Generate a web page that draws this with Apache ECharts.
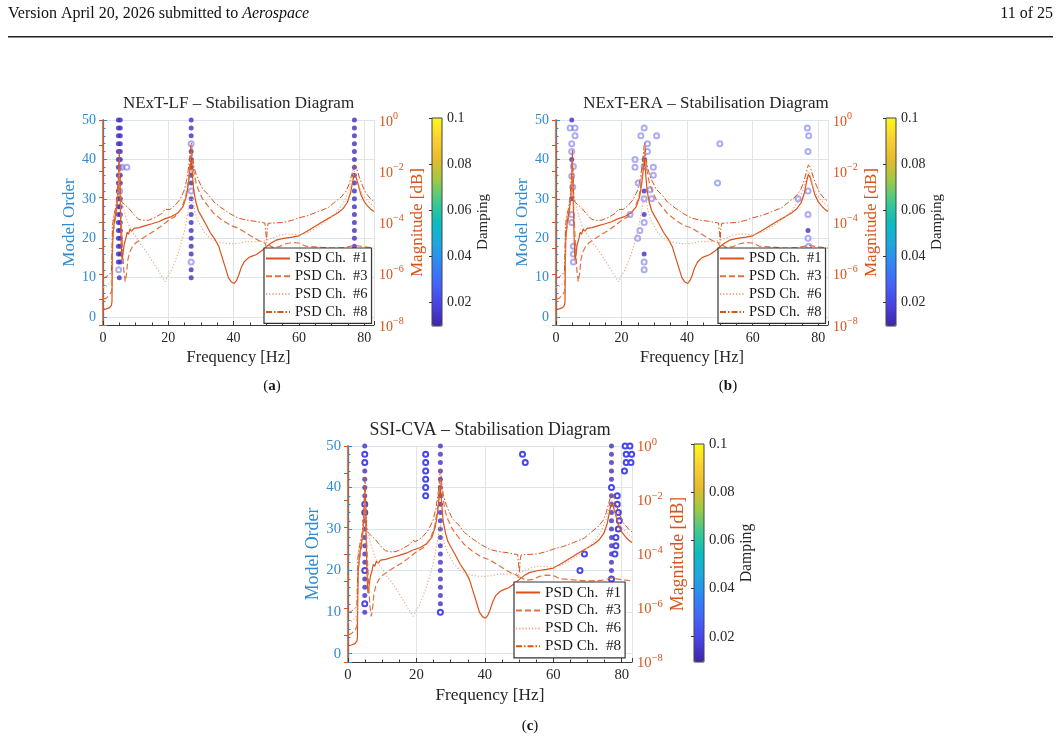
<!DOCTYPE html>
<html><head><meta charset="utf-8">
<script src="https://cdn.jsdelivr.net/npm/echarts@6/dist/echarts.min.js"></script>
<style>html,body{margin:0;padding:0;background:#fff}#c{width:1061px;height:742px}</style>
</head><body><div id="c"></div>
<script>
// ---------------- DATA ----------------
const freqMax = 83;
const orderMin = -2, orderMax = 50;
const magMin = 1e-8, magMax = 1;
const dampMin = 0.0095, dampMax = 0.1;

const panelTitles = ['NExT-LF – Stabilisation Diagram', 'NExT-ERA – Stabilisation Diagram', 'SSI-CVA – Stabilisation Diagram'];
const captions = ['a', 'b', 'c'];
const psdNames = ['PSD Ch.  #1', 'PSD Ch.  #3', 'PSD Ch.  #6', 'PSD Ch.  #8'];

// PSD curves: [frequency Hz, log10(magnitude)]
const psdCh1 = [[0,-7.38],[1,-7.37],[2,-7.32],[2.6,-7.23],[2.75,-7.08],[2.85,-5.54],[3.0,-4.62],[3.3,-4.15],[3.6,-3.85],[4.0,-3.54],[4.4,-3.15],[4.7,-2.62],[4.9,-2.15],[5.0,-1.85],[5.15,-2.31],[5.3,-3.38],[5.5,-4.46],[5.7,-5.23],[5.85,-5.46],[6.1,-5.23],[6.5,-4.85],[7.0,-4.62],[7.4,-4.38],[7.8,-4.46],[8.3,-4.26],[8.8,-4.34],[9.5,-4.23],[11,-4.20],[13,-4.12],[15,-4.05],[17,-3.97],[19,-3.85],[21,-3.77],[23,-3.62],[24.5,-3.38],[25.5,-3.0],[26.2,-2.46],[26.7,-1.85],[27.0,-1.57],[27.3,-2.0],[27.8,-2.77],[28.5,-3.23],[29.2,-3.54],[30.2,-3.77],[31.3,-4.02],[32.8,-4.38],[34.4,-4.68],[35.5,-4.95],[36.4,-5.32],[37.5,-5.77],[38.4,-6.15],[39.3,-6.32],[40.2,-6.38],[40.9,-6.26],[41.5,-6.08],[42.3,-5.77],[43.2,-5.54],[44.5,-5.38],[45.5,-5.32],[47,-5.25],[48.5,-5.11],[50.1,-4.94],[51.5,-4.80],[53,-4.69],[55.3,-4.62],[58,-4.57],[60,-4.52],[62.5,-4.34],[65,-4.15],[67.5,-3.95],[70,-3.77],[72,-3.62],[73.5,-3.46],[74.8,-3.23],[75.8,-2.85],[76.5,-2.38],[77,-2.12],[77.5,-2.23],[78.2,-2.54],[79,-2.92],[80,-3.18],[81,-3.35],[82,-3.48],[83,-3.57]];
const psdCh3 = [[0,-7.0],[1,-6.95],[2,-6.83],[2.6,-6.69],[2.75,-6.15],[2.9,-4.77],[3.2,-4.31],[3.6,-4.0],[4.0,-3.69],[4.4,-3.23],[4.7,-2.46],[4.95,-1.54],[5.1,-2.15],[5.3,-3.08],[5.6,-4.0],[6.0,-5.08],[6.4,-5.92],[6.8,-6.31],[7.2,-6.0],[7.6,-5.46],[8.2,-5.15],[9,-4.95],[10,-4.80],[12,-4.62],[14,-4.46],[16,-4.31],[18,-4.12],[20,-3.92],[22,-3.77],[24,-3.46],[25.3,-3.0],[26.2,-2.31],[26.8,-1.46],[27.0,-1.23],[27.3,-1.54],[27.8,-2.0],[28.5,-2.46],[29.2,-2.72],[30.5,-3.08],[32.3,-3.38],[34,-3.65],[36.3,-3.89],[39,-4.11],[41.4,-4.22],[44,-4.42],[46.5,-4.62],[48,-4.72],[49.6,-4.80],[50,-4.95],[50.4,-4.86],[52,-4.97],[54,-4.94],[56,-4.83],[58,-4.78],[60,-4.80],[62,-4.92],[65,-4.95],[70,-5.0],[74,-4.98],[77,-4.89],[80,-4.95],[83,-5.0]];
const psdCh6 = [[0,-6.54],[1,-6.49],[2,-6.38],[2.6,-6.28],[2.75,-5.38],[2.9,-4.0],[3.3,-3.69],[3.8,-3.46],[4.3,-3.15],[4.7,-2.62],[4.95,-2.0],[5.15,-2.46],[5.4,-2.92],[5.8,-3.15],[6.3,-3.46],[7,-3.77],[8,-4.15],[9,-4.38],[10,-4.54],[11.5,-4.85],[13,-5.08],[14.5,-5.38],[16,-5.69],[17.5,-6.0],[19,-6.31],[20,-6.08],[21,-5.85],[22,-5.54],[23,-5.20],[24,-4.77],[25,-4.31],[25.8,-3.77],[26.3,-3.38],[26.8,-3.0],[27.1,-2.92],[27.5,-3.15],[28.2,-3.62],[29,-3.92],[29.8,-4.09],[31,-4.38],[32.8,-4.62],[34.5,-4.72],[36,-4.78],[38,-4.82],[40,-4.83],[42,-4.80],[44,-4.74],[46,-4.75],[48,-4.74],[49.7,-4.71],[50,-4.85],[50.3,-4.68],[52,-4.60],[54,-4.49],[56,-4.45],[58,-4.46],[60,-4.49],[63,-4.38],[66,-4.15],[69,-3.88],[72,-3.54],[74,-3.15],[75.5,-2.69],[76.5,-2.23],[77,-2.0],[77.6,-2.15],[78.5,-2.62],[79.5,-2.92],[81,-3.15],[83,-3.38]];
const psdCh8 = [[0,-6.18],[1,-6.12],[2,-6.02],[2.6,-5.91],[2.75,-5.08],[2.9,-4.15],[3.3,-3.77],[3.8,-3.46],[4.3,-3.08],[4.6,-2.46],[4.85,-1.69],[5.0,-1.15],[5.15,-1.85],[5.35,-2.77],[5.6,-3.15],[6,-3.23],[7,-3.34],[8,-3.46],[9,-3.62],[10,-3.77],[11,-3.88],[12.5,-3.92],[14,-3.91],[16,-3.80],[18,-3.65],[19,-3.49],[19.6,-3.54],[20.5,-3.49],[22,-3.34],[23.5,-3.11],[24.8,-2.77],[25.7,-2.31],[26.4,-1.69],[26.9,-0.99],[27.1,-0.88],[27.4,-1.38],[27.9,-1.85],[28.5,-2.11],[29.2,-2.34],[30.5,-2.69],[32.3,-2.92],[34,-3.2],[36.3,-3.43],[39,-3.66],[41.4,-3.83],[44,-3.91],[46.5,-3.95],[48.5,-4.0],[49.6,-4.02],[49.9,-4.46],[50.1,-4.69],[50.3,-4.23],[50.6,-4.03],[52,-4.02],[55.3,-4.0],[58,-3.91],[60,-3.82],[63,-3.72],[66,-3.57],[69,-3.42],[71,-3.2],[73,-3.0],[74.5,-2.77],[75.5,-2.46],[76.3,-2.08],[77,-1.75],[77.6,-1.85],[78.5,-2.23],[79.5,-2.57],[80.5,-2.85],[82,-3.08],[83,-3.18]];

// Stable poles: columns {f: Hz, d: damping, o: model orders}
const lfStable = [
  {f:5.0, d:0.013, o:[10]},
  {f:4.7, d:0.013, o:[14,16,18,20,22,24,26,28,30,32,34,36,38,40,42,44,46,48,50]},
  {f:5.3, d:0.013, o:[14,16,18,20,22,24,26,28,30,34,36,38,40,42,44,46,48,50]},
  {f:27.0, d:0.013, o:[10,12,16,18,20,22,24,26,28,30,34,36,38,40,42,46,48,50]},
  {f:77.0, d:0.013, o:[10,12,14,16,18,20,22,24,26,28,30,32,34,36,38,40,42,44,46,48,50]}
];
const eraStable = [
  {f:4.8, d:0.013, o:[30,40,50]},
  {f:26.9, d:0.013, o:[16,26,32,40]},
  {f:76.9, d:0.013, o:[22]}
];
const cvaStable = [
  {f:4.9, d:0.013, o:[10,14,16,18,22,24,26,28,30,32,38,40,42,44,50]},
  {f:27.0, d:0.013, o:[12,14,16,18,20,22,24,26,28,30,32,34,36,38,40,42,44,46,48,50]},
  {f:77.0, d:0.013, o:[10,12,14,16,20,22,24,26,28,30,32,34,36,38,42,44,46,48,50]}
];
// Unstable poles: [Hz, model order, damping]
const lfUnstable = [[4.8,12,0.02],[5.1,32,0.02],[5.8,38,0.02],[7.3,38,0.02],[27.0,14,0.02],[27.0,32,0.02],[27.0,44,0.02]];
const eraUnstable = [[4.3,48,0.02],[5.8,48,0.02],[5.8,46,0.02],[4.8,44,0.02],[4.8,42,0.02],[5.3,38.2,0.02],[4.8,35.8,0.02],[5.1,33,0.02],[4.8,26,0.02],[4.8,24,0.02],[5.3,18,0.02],[5.3,16,0.02],[5.3,14,0.02],
  [26.9,48,0.02],[25.9,46,0.02],[30.7,46,0.02],[27.9,44,0.02],[27.9,42,0.02],[24.1,40,0.02],[24.1,38,0.02],[29.7,38,0.02],[26.9,38.2,0.02],[29.7,36,0.02],[25.1,34,0.02],[28.7,32.3,0.02],[26.9,30,0.02],[29.2,30,0.02],[22.6,26,0.02],[26.9,24,0.02],[25.6,22,0.02],[24.9,20,0.02],[26.9,14,0.02],[26.9,12,0.02],
  [50.0,44,0.02],[49.3,34,0.02],[73.9,30,0.02],
  [76.7,48,0.02],[77.1,46,0.02],[76.9,42,0.02],[76.9,32,0.02],[76.9,26,0.02],[76.9,20,0.02],[77.1,18,0.02]];
const cvaUnstable = [[4.9,48,0.02],[4.9,46,0.02],[4.9,36,0.02],[4.9,34,0.02],[4.9,20,0.02],[4.9,12,0.02],
  [22.7,48,0.02],[22.7,46,0.02],[22.7,44,0.02],[22.7,42,0.02],[22.7,40,0.02],[22.7,38,0.02],[27.0,10,0.02],
  [51.0,48,0.02],[51.8,46,0.02],[69.1,24,0.02],[67.8,20,0.02],[77.0,40,0.02],[77.0,18,0.02],
  [81.0,50,0.02],[82.4,50,0.02],[81.3,48,0.02],[82.9,48,0.02],[81.3,46,0.02],[82.7,46,0.02],[80.8,44,0.02],
  [78.7,38,0.02],[78.7,36,0.02],[79.0,34,0.02],[79.3,32,0.02],[79.0,30,0.02],[78.3,28,0.02],[78.3,26,0.02],[78.0,24,0.02]];

const parula = ['#3E26A8','#4741E5','#4563FD','#2E87F7','#1CA9DF','#0BBDBD','#3FCA8E','#9DC943','#E6BB2D','#FCCF30','#F9FB15'];

// ---------------- LAYOUT / STYLE ----------------
const FONT = '"Liberation Serif","DejaVu Serif",serif';
const BLUE = '#2F8AD0', ORANGE = '#D95319', INK = '#262626';
const panels = [
  {grid:{left:103, top:120, width:271, height:205}, cbar:{left:432, top:118, width:10, height:208}, legend:{left:264, top:248}, tx:238.5, ty:104, cx:272, cy:386, stable:lfStable, unstable:lfUnstable, uOp:0.45, fs:1},
  {grid:{left:556, top:120, width:272, height:205}, cbar:{left:886, top:118, width:10, height:208}, legend:{left:718, top:248}, tx:706, ty:104, cx:728, cy:386, stable:eraStable, unstable:eraUnstable, uOp:0.45, fs:1},
  {grid:{left:348, top:446, width:284, height:216}, cbar:{left:694, top:444, width:10, height:218}, legend:{left:514, top:582}, tx:490, ty:430, cx:530, cy:726, stable:cvaStable, unstable:cvaUnstable, uOp:1, fs:1.05}
];
const psdStyles = [
  {color:'#D95319', type:'solid', width:1.2},
  {color:'#E0713F', type:[6,3], width:1.2},
  {color:'#EFA27F', type:[1.2,2], width:1.1},
  {color:'#D95319', type:[6,2,1.5,2], width:1}
];
const psdData = [psdCh1, psdCh3, psdCh6, psdCh8];

const grids = [], xAxes = [], yAxes = [], series = [], visualMaps = [], legends = [], graphics = [];

panels.forEach((p, i) => {
  const fs = p.fs;
  grids.push(Object.assign({containLabel:false}, p.grid));
  const gi = grids.length - 1;
  xAxes.push({gridIndex:gi, type:'value', min:0, max:freqMax, interval:20,
    axisLine:{show:true, onZero:false, lineStyle:{color:'#3a3a3a', width:1}},
    axisTick:{show:true, inside:true, length:4, lineStyle:{color:'#3a3a3a'}},
    minorTick:{show:true, splitNumber:4, length:2.5, lineStyle:{color:'#3a3a3a'}},
    axisLabel:{fontFamily:FONT, fontSize:14*fs, color:INK, margin:6, showMaxLabel:false},
    splitLine:{show:true, lineStyle:{color:'#e3e3e3', width:1}},
    name:'Frequency [Hz]', nameLocation:'middle', nameGap:24*fs,
    nameTextStyle:{fontFamily:FONT, fontSize:16.5*fs, color:INK}});
  const xi = xAxes.length - 1;
  yAxes.push({gridIndex:gi, type:'value', position:'left', min:orderMin, max:orderMax, splitNumber:5,
    axisLine:{show:true, onZero:false, lineStyle:{color:BLUE, width:1.3}},
    axisTick:{show:true, inside:true, length:4, lineStyle:{color:BLUE}},
    minorTick:{show:true, splitNumber:5, length:2.5, lineStyle:{color:BLUE}},
    axisLabel:{showMinLabel:false, color:BLUE, fontFamily:FONT, fontSize:14*fs, margin:7},
    splitLine:{show:true, lineStyle:{color:'#d8e6f2', width:1}},
    name:'Model Order', nameLocation:'middle', nameGap:20*fs,
    nameTextStyle:{fontFamily:FONT, fontSize:17*fs, color:BLUE}});
  const yl = yAxes.length - 1;
  yAxes.push({gridIndex:gi, type:'log', logBase:10, position:'right', min:magMin, max:magMax, splitNumber:8,
    axisLine:{show:true, lineStyle:{color:ORANGE, width:1.5}},
    axisTick:{show:true, inside:true, length:4, lineStyle:{color:ORANGE}},
    axisLabel:{margin:5, formatter: v => { const e = Math.round(Math.log10(v)); if (e % 2) return ''; return '{b|10}{s|' + (e < 0 ? '\u2212' + (-e) : e) + '}'; },
      rich:{b:{fontFamily:FONT, fontSize:14*fs, color:ORANGE, lineHeight:18, verticalAlign:'bottom'},
            s:{fontFamily:FONT, fontSize:10*fs, color:ORANGE, lineHeight:18, verticalAlign:'top'}}},
    splitLine:{show:false},
    name:'Magnitude [dB]', nameLocation:'middle', nameGap:35.5*fs,
    nameTextStyle:{fontFamily:FONT, fontSize:17*fs, color:ORANGE}});
  const yr = yAxes.length - 1;

  // poles
  const stableData = [];
  p.stable.forEach(c => c.o.forEach(o => stableData.push([c.f, o, c.d])));
  series.push({type:'scatter', xAxisIndex:xi, yAxisIndex:yl, symbol:'circle', symbolSize:5, z:2, data:stableData, silent:true});
  const sIdx = series.length - 1;
  series.push({type:'scatter', xAxisIndex:xi, yAxisIndex:yl, symbol:'emptyCircle', symbolSize:5, z:2,
    itemStyle:{borderWidth:1, opacity:p.uOp}, data:p.unstable, silent:true});
  const uIdx = series.length - 1;

  psdData.forEach((d, k) => {
    series.push({type:'line', name:psdNames[k], xAxisIndex:xi, yAxisIndex:yr, symbol:'none', showSymbol:false, z:3, silent:true,
      lineStyle:{color:psdStyles[k].color, type:psdStyles[k].type, width:psdStyles[k].width},
      itemStyle:{color:psdStyles[k].color},
      data:d.map(([f, e]) => [f, Math.pow(10, e)])});
  });

  // colorbar
  visualMaps.push({type:'continuous', min:dampMin, max:dampMax, dimension:2, seriesIndex:[sIdx, uIdx],
    inRange:{color:parula}, calculable:false, hoverLink:false, orient:'vertical',
    itemWidth:p.cbar.width, itemHeight:p.cbar.height, left:p.cbar.left, top:p.cbar.top, padding:0, text:null});
  grids.push({show:true, left:p.cbar.left, top:p.cbar.top, width:p.cbar.width, height:p.cbar.height,
    borderColor:'#444', borderWidth:1, backgroundColor:'rgba(0,0,0,0)', z:10});
  const cg = grids.length - 1;
  xAxes.push({gridIndex:cg, type:'value', show:false, min:0, max:1});
  yAxes.push({gridIndex:cg, type:'value', position:'right', min:dampMin, max:dampMax, z:10,
    axisLine:{show:false}, axisTick:{show:true, inside:true, length:3, lineStyle:{color:'#333'}},
    axisLabel:{showMinLabel:false, fontFamily:FONT, fontSize:14*fs, color:INK, margin:5},
    splitLine:{show:false},
    name:'Damping', nameLocation:'middle', nameGap:33*fs,
    nameTextStyle:{fontFamily:FONT, fontSize:15*fs, color:INK}});

  legends.push({left:p.legend.left, top:p.legend.top, orient:'vertical', data:psdNames, selectedMode:false,
    itemWidth:24, itemHeight:13*fs, itemGap:2.8*fs, padding:[3,4,4,1], backgroundColor:'#fff',
    borderColor:'#333', borderWidth:1.2, z:6,
    itemStyle:{opacity:0, borderWidth:0},
    textStyle:{fontFamily:FONT, fontSize:14.5*fs, color:'#1a1a1a'}});

  graphics.push({type:'text', x:p.tx, y:p.ty, z:10, style:{text:panelTitles[i], fontFamily:FONT, fontSize:17*fs, fill:INK, align:'center', verticalAlign:'middle'}});
  graphics.push({type:'text', x:p.cx, y:p.cy, z:10, style:{text:'({b|' + captions[i] + '})', fontFamily:FONT, fontSize:15, fill:'#111', align:'center', verticalAlign:'middle',
    rich:{b:{fontFamily:FONT, fontSize:15, fontWeight:'bold', fill:'#111'}}}});
});

graphics.push({type:'text', x:8, y:14, style:{text:'Version April 20, 2026 submitted to {i|Aerospace}', fontFamily:FONT, fontSize:16, fill:'#111', verticalAlign:'middle',
  rich:{i:{fontFamily:FONT, fontSize:16, fontStyle:'italic', fill:'#111'}}}});
graphics.push({type:'text', x:1053, y:14, style:{text:'11 of 25', fontFamily:FONT, fontSize:16, fill:'#111', align:'right', verticalAlign:'middle'}});
graphics.push({type:'rect', shape:{x:8, y:36, width:1045, height:1.5}, style:{fill:'#222'}});

const chart = echarts.init(document.getElementById('c'), null, {renderer:'canvas'});
chart.setOption({
  animation:false, backgroundColor:'#fff',
  grid:grids, xAxis:xAxes, yAxis:yAxes, series:series, visualMap:visualMaps, legend:legends, graphic:graphics
});
</script></body></html>
